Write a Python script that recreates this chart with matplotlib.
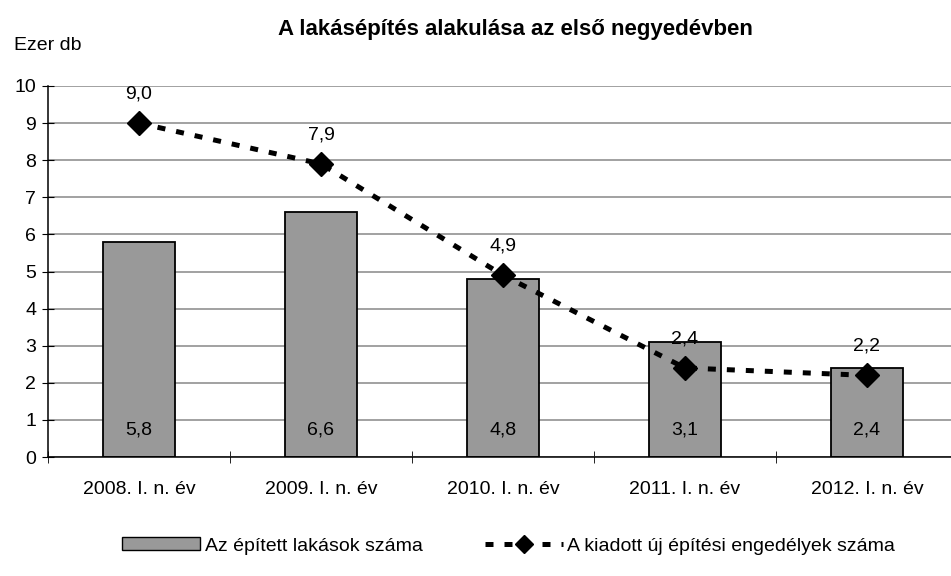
import matplotlib.pyplot as plt
import numpy as np
from matplotlib.lines import Line2D
from matplotlib.patches import Patch

plt.rcParams["font.family"] = ["Liberation Sans", "DejaVu Sans"]

# -------------------------------------------------
# Data
# -------------------------------------------------

categories = ["2008. I. n. év", "2009. I. n. év", "2010. I. n. év",
              "2011. I. n. év", "2012. I. n. év"]
built = [5.8, 6.6, 4.8, 3.1, 2.4]
permits = [9.0, 7.9, 4.9, 2.4, 2.2]

bar_label = "Az épített lakások száma"
line_label = "A kiadott új építési engedélyek száma"


def hu(v):
    return f"{v:.1f}".replace(".", ",")


# -------------------------------------------------
# Figure
# -------------------------------------------------

fig = plt.figure(figsize=(9.51, 5.76), dpi=100)
W, H = 951, 576
ax = fig.add_axes([48 / W, 1 - 457 / H, 910 / W, (457 - 86) / H])

x = np.arange(len(categories))
dash = (0, (1.6, 2.2))

ax.bar(x, built, width=0.4, color="#999999", edgecolor="black",
       linewidth=1.3, zorder=2)
ax.plot(x, permits, color="black", linestyle=dash, linewidth=3.6,
        marker="D", markersize=12, zorder=3)

for xi, v in zip(x, built):
    ax.text(xi, 0.73, hu(v), ha="center", va="center", fontsize=14)
for xi, v in zip(x, permits):
    ax.text(xi, v + 0.78, hu(v), ha="center", va="center", fontsize=14)

ax.set_xlim(-0.5, len(categories) - 0.5)
ax.set_ylim(0, 10)
ax.set_yticks(range(0, 11))
ax.tick_params(axis="y", labelsize=14, length=9, direction="inout", pad=4)
ax.yaxis.grid(True, color="#9a9a9a", linewidth=1.3, zorder=0)
ax.set_axisbelow(True)

ax.set_xticks(x)
ax.set_xticklabels(categories, fontsize=14)
ax.tick_params(axis="x", length=0, pad=17)
ax.set_xticks(np.arange(len(categories) + 1) - 0.5, minor=True)
ax.tick_params(axis="x", which="minor", length=9, direction="inout")

for s in ["top", "right"]:
    ax.spines[s].set_visible(False)
ax.spines["left"].set_linewidth(1.1)
ax.spines["bottom"].set_linewidth(1.1)

fig.text(515 / W, 1 - 30 / H, "A lakásépítés alakulása az első negyedévben",
         ha="center", va="center", fontsize=16, fontweight="bold")
fig.text(14 / W, 1 - 45 / H, "Ezer db", ha="left", va="center", fontsize=14)

handles = [
    Patch(facecolor="#999999", edgecolor="black", label=bar_label),
    Line2D([0], [0], color="black", linestyle=dash, linewidth=3.6,
           marker="D", markersize=9, label=line_label),
]
fig.legend(handles=handles, loc="center left",
           bbox_to_anchor=(122 / W, 1 - 546 / H), ncol=2, frameon=False,
           fontsize=14, handlelength=4, handleheight=0.6,
           columnspacing=3.2, handletextpad=0.25, borderpad=0,
           borderaxespad=0)

fig.savefig("out.png", dpi=100)
